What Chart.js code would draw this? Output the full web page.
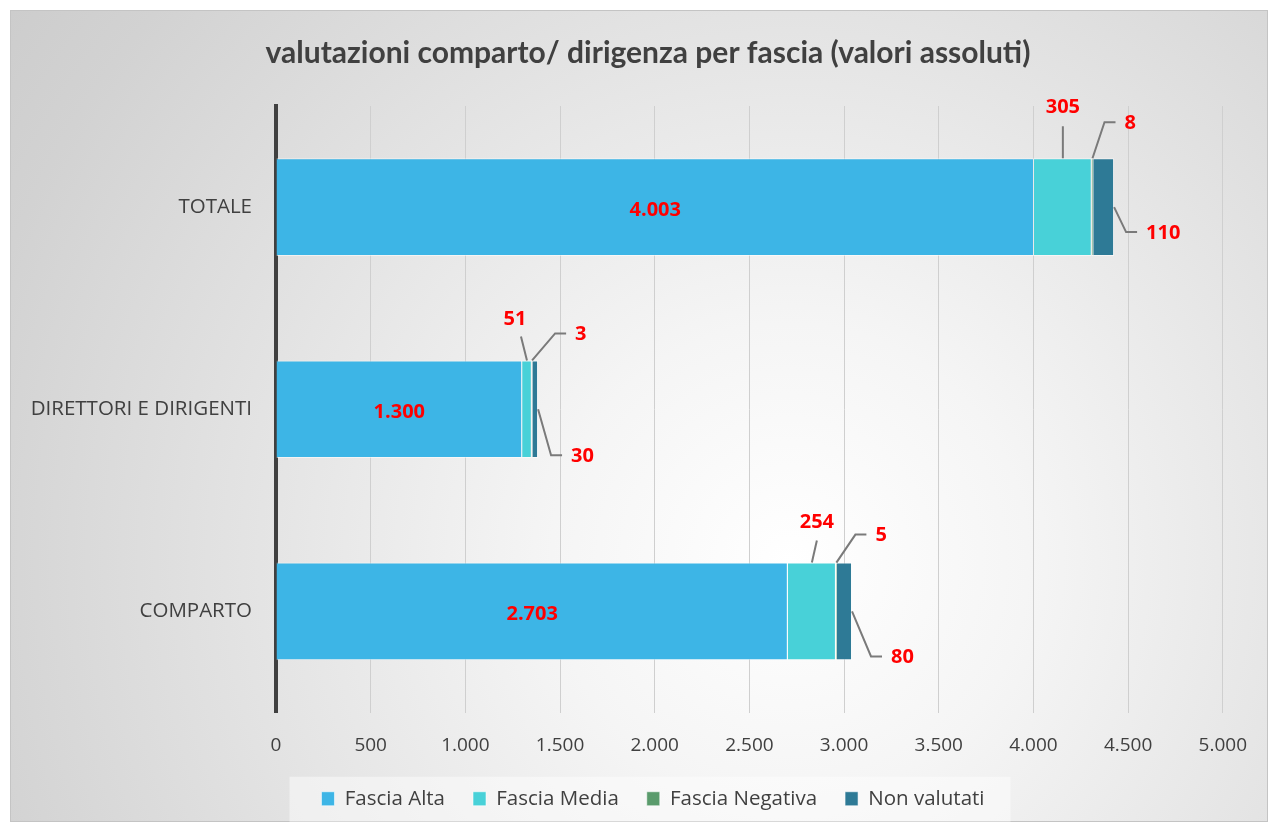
<!DOCTYPE html>
<html lang="it">
<head>
<meta charset="utf-8">
<title>valutazioni comparto/ dirigenza per fascia</title>
<script src="https://cdn.jsdelivr.net/npm/chart.js@4.4.1/dist/chart.umd.min.js"></script>
<style>
  html, body { margin: 0; padding: 0; background: #ffffff; }
  #frame {
    position: absolute; left: 10px; top: 10px;
    width: 1258px; height: 812px;
    box-sizing: border-box;
    border: 1px solid #c4c4c4;
    background: radial-gradient(circle farthest-corner at 62% 68%, #ffffff 0%, #f5f5f5 25%, #d2d2d2 88%, #cdcdcd 100%);
  }
  #frame canvas { position: absolute; left: 0; top: 0; }
</style>
</head>
<body>
<div id="frame"><canvas id="fasceChart" width="1258" height="812"></canvas></div>
<script>
// categories, top to bottom
const categorie = ['TOTALE', 'DIRETTORI E DIRIGENTI', 'COMPARTO'];

// valutazioni per fascia (valori assoluti)
const fasciaAlta = [4003, 1300, 2703];
const fasciaMedia = [305, 51, 254];
const fasciaNegativa = [8, 3, 5];
const nonValutati = [110, 30, 80];

const serieNomi = ['Fascia Alta', 'Fascia Media', 'Fascia Negativa', 'Non valutati'];
const serieColori = ['#3db5e6', '#48d1d8', '#5a9b6c', '#2e7a96'];

const xTicks = [0, 500, 1000, 1500, 2000, 2500, 3000, 3500, 4000, 4500, 5000];

// leader lines for the small segments (px offsets from each segment's anchor)
const mediaLineEnd = [[0, -32], [-6, -24], [5, -22]];
const mediaTextPos = [[0, -51], [-12, -41], [5, -40]];
const negativaElbow = [[12, -36], [23, -27], [19, -28]];
const nonValElbow = [[12, 25], [13, 46], [19, 45]];

// horizontal shift of title and legend (they sit right of the canvas centre)
const titleShift = 21;
const legendShift = 26;

function fmt(n) {
    return String(n).replace(/\B(?=(\d{3})+(?!\d))/g, '.');
}

const valueLabels = {
    id: 'valueLabels',
    afterDatasetsDraw(chart) {
        const ctx = chart.ctx;
        ctx.save();
        ctx.font = 'bold 20px "Open Sans"';
        ctx.fillStyle = '#ff0000';
        ctx.strokeStyle = '#7a7a7a';
        ctx.lineWidth = 2;
        ctx.textBaseline = 'middle';

        chart.data.datasets.forEach((ds, di) => {
            const meta = chart.getDatasetMeta(di);
            meta.data.forEach((el, i) => {
                const p = el.getProps(['x', 'base', 'y', 'height'], true);
                const val = fmt(ds.data[i]);
                const mid = (p.x + p.base) / 2;
                const top = p.y - p.height / 2;

                if (di === 0) {
                    ctx.textAlign = 'center';
                    ctx.fillText(val, mid, p.y + 3);
                } else if (di === 1) {
                    const le = mediaLineEnd[i], tp = mediaTextPos[i];
                    ctx.beginPath();
                    ctx.moveTo(mid, top);
                    ctx.lineTo(mid + le[0], top + le[1]);
                    ctx.stroke();
                    ctx.textAlign = 'center';
                    ctx.fillText(val, mid + tp[0], top + tp[1]);
                } else {
                    // negativa: from top of segment; non valutati: from right end
                    const ax = di === 2 ? mid : p.x;
                    const ay = di === 2 ? top : p.y;
                    const e = di === 2 ? negativaElbow[i] : nonValElbow[i];
                    const ex = ax + e[0], ey = ay + e[1];
                    ctx.beginPath();
                    ctx.moveTo(ax, ay);
                    ctx.lineTo(ex, ey);
                    ctx.lineTo(ex + 11, ey);
                    ctx.stroke();
                    ctx.textAlign = 'left';
                    ctx.fillText(val, ex + 20, ey + 1);
                }
            });
        });
        ctx.restore();
    }
};

// move title/legend sideways and paint a light panel behind the legend
const legendPanel = {
    id: 'legendPanel',
    beforeDraw(chart) {
        const t = chart.titleBlock;
        if (t && !t._nudged) {
            t.left += titleShift;
            t.right += titleShift;
            t._nudged = true;
        }
        const lg = chart.legend;
        if (!lg || !lg.legendHitBoxes.length) return;
        if (!lg._nudged) {
            lg.left += legendShift;
            lg.right += legendShift;
            lg._nudged = true;
        }
        const boxes = lg.legendHitBoxes;
        const left = boxes[0].left + legendShift - 32;
        const last = boxes[boxes.length - 1];
        const right = last.left + legendShift + last.width + 26;
        const cy = boxes[0].top + boxes[0].height / 2;
        const ctx = chart.ctx;
        ctx.save();
        ctx.fillStyle = 'rgba(255,255,255,0.45)';
        ctx.fillRect(left, cy - 22, right - left, 45);
        ctx.restore();
    }
};

const datasets = [fasciaAlta, fasciaMedia, fasciaNegativa, nonValutati].map((d, k) => ({
    label: serieNomi[k],
    data: d,
    backgroundColor: serieColori[k],
    borderColor: 'rgba(255,255,255,0.55)',
    borderWidth: 1,
    borderSkipped: 'start',
    barPercentage: 0.483,
    categoryPercentage: 1
}));

const ctx = document.getElementById('fasceChart').getContext('2d');
new Chart(ctx, {
    type: 'bar',
    data: {
        labels: categorie,
        datasets: datasets
    },
    options: {
        indexAxis: 'y',
        responsive: false,
        animation: false,
        layout: {
            padding: { left: 10, right: 36, top: 0, bottom: 4 }
        },
        scales: {
            x: {
                stacked: true,
                min: 0,
                max: 5000,
                afterBuildTicks: (scale) => {
                    scale.ticks = xTicks.map(v => ({ value: v }));
                },
                afterFit: (scale) => { scale.height = 48; },
                grid: {
                    color: '#cfcfcf',
                    lineWidth: 1,
                    drawTicks: false
                },
                border: { display: false },
                ticks: {
                    padding: 22,
                    color: '#404040',
                    font: { family: '"Open Sans"', size: 19 },
                    callback: (v) => fmt(v)
                }
            },
            y: {
                stacked: true,
                afterFit: (scale) => { scale.width = 255; },
                grid: { display: false, drawTicks: false },
                border: { display: true, color: '#404040', width: 4 },
                ticks: {
                    padding: 24,
                    color: '#404040',
                    font: { family: '"Open Sans"', size: 20.5 }
                }
            }
        },
        plugins: {
            title: {
                display: true,
                text: 'valutazioni comparto/ dirigenza per fascia (valori assoluti)',
                color: '#404040',
                font: { family: 'Lato', size: 30, weight: 'bold' },
                padding: { top: 24, bottom: 35 }
            },
            legend: {
                display: true,
                position: 'bottom',
                maxHeight: 62,
                labels: {
                    boxWidth: 13,
                    boxHeight: 14,
                    padding: 28,
                    color: '#404040',
                    font: { family: '"Open Sans"', size: 20.5 }
                }
            },
            tooltip: { enabled: false }
        }
    },
    plugins: [legendPanel, valueLabels]
});
</script>
</body>
</html>
